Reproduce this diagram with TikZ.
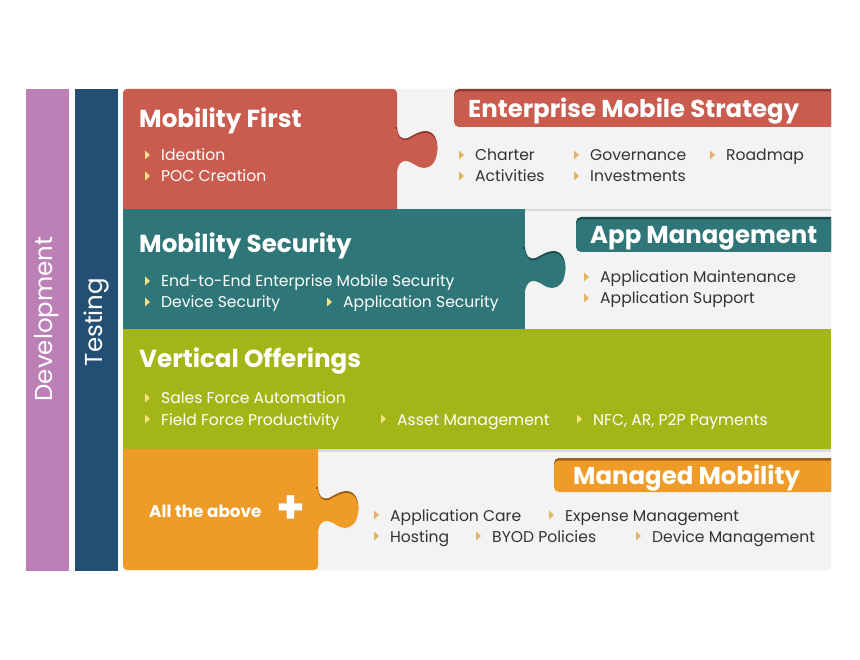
\documentclass[tikz,border=0pt]{standalone}
\usepackage{fontspec}
\setmainfont{Poppins}
\definecolor{cred}{HTML}{C95C4E}
\definecolor{credD}{HTML}{8E3A30}
\definecolor{cteal}{HTML}{2E7677}
\definecolor{ctealD}{HTML}{1B4A4B}
\definecolor{colive}{HTML}{A3B618}
\definecolor{corange}{HTML}{EE9B28}
\definecolor{corangeD}{HTML}{9A5E12}
\definecolor{cpurple}{HTML}{BC80B7}
\definecolor{cnavy}{HTML}{234F74}
\definecolor{cgrey}{HTML}{F3F3F3}
\definecolor{ctxt}{HTML}{333333}
\definecolor{ctan}{HTML}{E2B463}
\definecolor{cpale}{HTML}{F5E38A}
\tikzset{
  ttl/.style={font=\bfseries\fontsize{24.6}{24.6}\selectfont, text=white, anchor=base west, inner sep=0pt},
  hdr/.style={font=\bfseries\fontsize{24.4}{24.4}\selectfont, text=white, anchor=base west, inner sep=0pt},
  bodyg/.style={font=\fontsize{15.6}{15.6}\selectfont, text=ctxt, anchor=base west, inner sep=0pt},
  bodyw/.style={font=\fontsize{15.6}{15.6}\selectfont, text=white, anchor=base west, inner sep=0pt},
  side/.style={font=\fontsize{24.5}{24.5}\selectfont, text=white, rotate=90, inner sep=0pt},
}
% bullet item: name, x, baseline y, text, text style, bullet colour
\newcommand\bitem[6]{%
  \fill[#6] (#2-16,#3-10.5) -- (#2-11,#3-6) -- (#2-16,#3-1.5) -- cycle;
  \node[#5] (#1) at (#2,#3) {#4};}
% puzzle tab: edge x, centre y, colour, shadow colour
\newcommand\ptab[4]{%
  \begin{scope}[shift={(#1,#2)}]
    \fill[#4] (-2,-23) -- (0,-23) .. controls (1,-13) and (5,-10) .. (11,-12) .. controls (18,-16) and (26,-21) .. (33,-18) .. controls (40,-15) and (41,-4) .. (40,1) -- (-2,1) -- cycle;
    \fill[#3] (-2,-21) -- (0,-21) .. controls (1,-12) and (5,-8) .. (11,-10) .. controls (18,-14) and (26,-19) .. (33,-16) .. controls (40,-13) and (41,-2) .. (40,3) .. controls (39,12) and (34,18) .. (27,18) .. controls (20,18) and (16,12) .. (10,11) .. controls (4,10) and (1,15) .. (0,21) -- (-2,21) -- cycle;
  \end{scope}}
\begin{document}
\begin{tikzpicture}[x=1pt,y=-1pt]
\useasboundingbox (0,0) rectangle (860,660);
\fill[white] (0,0) rectangle (860,660);
% side bars
\fill[cpurple] (26,89) rectangle (69,571);
\fill[cnavy] (75,89) rectangle (118,571);
\node[side] (dev) at (47,319) {Development};
\node[side] (tst) at (96,322) {Testing};
% panel
\fill[cgrey, rounded corners=4] (123,89) rectangle (831,570);
% shadows
\fill[gray!30] (397,209) rectangle (831,211.5);
\fill[gray!30] (525,329) rectangle (831,331);
\fill[gray!30] (318,449) rectangle (831,451.5);
% row 1
\fill[cred] (397,209) -- (123,209) [rounded corners=4] -- (123,89) -- (397,89) [sharp corners] -- cycle;
\ptab{397}{150}{cred}{credD}
% row 2
\fill[cteal] (123,209) rectangle (525,329);
\ptab{525}{270}{cteal}{ctealD}
% row 3
\fill[colive] (123,329) rectangle (831,449);
% row 4
\fill[corange] (123,449) [rounded corners=4] -- (123,570) -- (318,570) [sharp corners] -- (318,449) -- cycle;
\ptab{318}{510}{corange}{corangeD}
% header bars
\begin{scope}
\clip (0,0) rectangle (831,660);
\fill[credD, rounded corners=5] (454,89) rectangle (850,125);
\fill[cred, rounded corners=5] (454,91.5) rectangle (850,127);
\fill[ctealD, rounded corners=5] (576,217) rectangle (850,250);
\fill[cteal, rounded corners=5] (576,219.5) rectangle (850,252);
\fill[corangeD, rounded corners=5] (554,458) rectangle (850,490);
\fill[corange, rounded corners=5] (554,460.5) rectangle (850,492);
\end{scope}
% titles
\node[ttl] (t1) at (139,128) {Mobility First};
\node[ttl] (t2) at (139,253) {Mobility Security};
\node[ttl] (t3) at (139,368) {Vertical Offerings};
\node[hdr] (h1) at (468,118) {Enterprise Mobile Strategy};
\node[hdr] (h2) at (590,244) {App Management};
\node[hdr] (h4) at (573,484) {Managed Mobility};
\node[font=\bfseries\fontsize{16.8}{16.8}\selectfont, text=white, anchor=base west, inner sep=0pt] (t4) at (149,517) {All the above};
\node[font=\bfseries\fontsize{46}{46}\selectfont, text=white, inner sep=0pt] (plus) at (291,510) {+};
% row 1 items
\bitem{a1}{161}{161}{Ideation}{bodyw}{cpale}
\bitem{a2}{161}{182}{POC Creation}{bodyw}{cpale}
\bitem{b1}{475}{161}{Charter}{bodyg}{ctan}
\bitem{b2}{475}{182}{Activities}{bodyg}{ctan}
\bitem{b3}{590}{161}{Governance}{bodyg}{ctan}
\bitem{b4}{590}{182}{Investments}{bodyg}{ctan}
\bitem{b5}{726}{161}{Roadmap}{bodyg}{ctan}
% row 2 items
\bitem{c1}{161}{287}{End-to-End Enterprise Mobile Security}{bodyw}{cpale}
\bitem{c2}{161}{308}{Device Security}{bodyw}{cpale}
\bitem{c3}{343}{308}{Application Security}{bodyw}{cpale}
\bitem{d1}{600}{283}{Application Maintenance}{bodyg}{ctan}
\bitem{d2}{600}{304}{Application Support}{bodyg}{ctan}
% row 3 items
\bitem{e1}{161}{404}{Sales Force Automation}{bodyw}{cpale}
\bitem{e2}{161}{425}{Field Force Productivity}{bodyw}{cpale}
\bitem{e3}{397}{425}{Asset Management}{bodyw}{cpale}
\bitem{e4}{593}{425}{NFC, AR, P2P Payments}{bodyw}{cpale}
% row 4 items
\bitem{f1}{390}{521}{Application Care}{bodyg}{ctan}
\bitem{f2}{565}{521}{Expense Management}{bodyg}{ctan}
\bitem{f3}{390}{542}{Hosting}{bodyg}{ctan}
\bitem{f4}{492}{542}{BYOD Policies}{bodyg}{ctan}
\bitem{f5}{652}{542}{Device Management}{bodyg}{ctan}
\end{tikzpicture}
\end{document}
